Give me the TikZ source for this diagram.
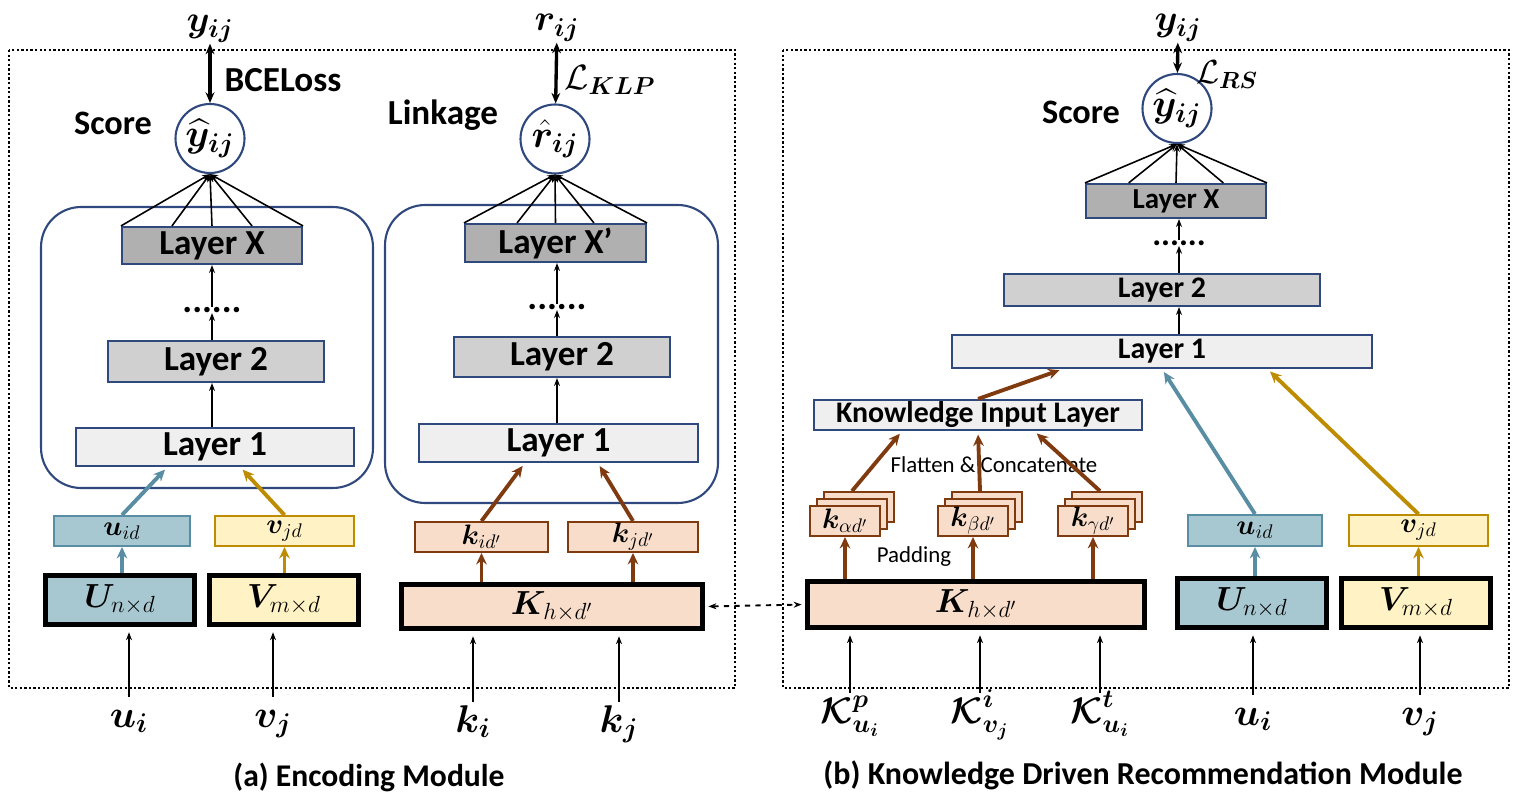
\RequirePackage{fix-cm}
\documentclass[tikz,border=0pt]{standalone}
\usepackage{amsmath}
\usepackage{bm}
\usepackage{fontspec}
\setmainfont{Carlito}
\usepackage{xcolor}
\usepackage{tikz}
\usetikzlibrary{arrows.meta}
\usetikzlibrary{calc}

\definecolor{navy}{RGB}{47,72,125}
\definecolor{grayX}{RGB}{176,176,176}
\definecolor{grayII}{RGB}{208,208,208}
\definecolor{grayI}{RGB}{239,239,239}
\definecolor{tealF}{RGB}{168,200,209}
\definecolor{tealD}{RGB}{88,141,163}
\definecolor{yelF}{RGB}{255,242,196}
\definecolor{yelD}{RGB}{190,140,0}
\definecolor{peachF}{RGB}{248,221,203}
\definecolor{brownD}{RGB}{128,58,16}

\begin{document}
\begin{tikzpicture}[x=0.02cm,y=-0.02cm]
				\useasboundingbox (0,0) rectangle (1518,800);
				% frames of the two modules
				\draw[line width=1.3pt,dash pattern=on 1.3pt off 1.3pt] (9,50) rectangle (735,688);
				\draw[line width=1.3pt,dash pattern=on 1.3pt off 1.3pt] (783,50) rectangle (1509,688);
				
				\begin{scope}[every node/.style={draw=navy,line width=1.2pt,rounded corners=0.8cm,inner sep=0pt}]
					\node[minimum width=6.64cm,minimum height=5.62cm] (BA) at (207,347.5) {};
					\node[minimum width=6.66cm,minimum height=5.96cm] (BB) at (551.5,354) {};
				\end{scope}
				
				\begin{scope}[every node/.style={rectangle,draw=navy,line width=1.2pt,inner sep=0pt,
						font=\fontsize{20}{23}\selectfont\bfseries}]
					\node[fill=grayX,minimum width=3.60cm,minimum height=0.74cm] (LXA) at (212,245.5) {Layer X};
					\node[fill=grayII,minimum width=4.32cm,minimum height=0.82cm] (L2A) at (216,361.5) {Layer 2};
					\node[fill=grayI,minimum width=5.56cm,minimum height=0.76cm] (L1A) at (215,447) {Layer 1};
					\node[fill=grayX,minimum width=3.62cm,minimum height=0.76cm] (LXB) at (555.5,243) {Layer X’};
					\node[fill=grayII,minimum width=4.32cm,minimum height=0.80cm] (L2B) at (562,357) {Layer 2};
					\node[fill=grayI,minimum width=5.58cm,minimum height=0.76cm] (L1B) at (558.5,443) {Layer 1};
					\node[fill=grayX,minimum width=3.60cm,minimum height=0.68cm,font=\fontsize{16.5}{19}\selectfont\bfseries] (LXC) at (1176,201) {Layer X};
					\node[fill=grayII,minimum width=6.32cm,minimum height=0.64cm,font=\fontsize{17}{20}\selectfont\bfseries] (L2C) at (1162,290) {Layer 2};
					\node[fill=grayI,minimum width=8.40cm,minimum height=0.66cm,font=\fontsize{17}{20}\selectfont\bfseries] (L1C) at (1162,351.5) {Layer 1};
					\node[fill=grayI,minimum width=6.56cm,minimum height=0.60cm,font=\fontsize{17}{20}\selectfont\bfseries] (KIL) at (978,415) {Knowledge Input Layer};
				\end{scope}
				
				\begin{scope}[every node/.style={circle,draw=navy,line width=1.2pt,fill=white,inner sep=0pt,
						minimum size=1.38cm,font=\fontsize{22}{26}\selectfont}]
					\node (SA) at (210,138.5) {$\bm{\widehat{y}_{ij}}$};
					\node (SB) at (555,139) {$\bm{\hat{r}_{ij}}$};
					\node (SC) at (1177,108.5) {$\bm{\widehat{y}_{ij}}$};
				\end{scope}
				
				% embedding boxes
				\begin{scope}[every node/.style={rectangle,line width=1.1pt,inner sep=0pt,
						minimum height=0.60cm,font=\fontsize{16}{19}\selectfont}]
					\node[draw=tealD,fill=tealF,minimum width=2.72cm] (UA) at (122,531) {$\bm{u}_{id}$};
					\node[draw=yelD,fill=yelF,minimum width=2.78cm] (VA) at (284.5,531) {$\bm{v}_{jd}$};
					\node[draw=brownD,fill=peachF,minimum width=2.66cm] (KI) at (481.5,537) {$\bm{k}_{id'}$};
					\node[draw=brownD,fill=peachF,minimum width=2.60cm] (KJ) at (633,537) {$\bm{k}_{jd'}$};
					\node[draw=tealD,fill=tealF,minimum width=2.68cm,minimum height=0.62cm] (UR) at (1255,530.5) {$\bm{u}_{id}$};
					\node[draw=yelD,fill=yelF,minimum width=2.78cm,minimum height=0.62cm] (VR) at (1418.5,530.5) {$\bm{v}_{jd}$};
				\end{scope}
				
				\begin{scope}[every node/.style={rectangle,draw=brownD,fill=peachF,line width=1.1pt,inner sep=0pt,
						minimum width=1.40cm,minimum height=0.60cm,font=\fontsize{16}{19}\selectfont}]
					\node (KA3) at (859,507) {};
					\node (KA2) at (852,514) {};
					\node (KA) at (845,521) {$\bm{k}_{\alpha d'}$};
					\node (KB3) at (987,507) {};
					\node (KB2) at (980,514) {};
					\node (KB) at (973,521) {$\bm{k}_{\beta d'}$};
					\node (KG3) at (1107,507) {};
					\node (KG2) at (1100,514) {};
					\node (KG) at (1093,521) {$\bm{k}_{\gamma d'}$};
				\end{scope}
				
				% embedding tables
				\begin{scope}[every node/.style={rectangle,draw=black,line width=2.8pt,inner sep=0pt,
						minimum height=0.98cm,font=\fontsize{19}{22}\selectfont}]
					\node[fill=tealF,minimum width=2.98cm] (U1) at (120,600) {$\bm{U}_{n\times d}$};
					\node[fill=yelF,minimum width=2.98cm] (V1) at (284,600) {$\bm{V}_{m\times d}$};
					\node[fill=peachF,minimum width=6.02cm,minimum height=0.88cm] (K1) at (552,606.5) {$\bm{K}_{h\times d'}$};
					\node[fill=peachF,minimum width=6.74cm,minimum height=0.92cm] (K2) at (976,604.5) {$\bm{K}_{h\times d'}$};
					\node[fill=tealF,minimum width=2.98cm] (U2) at (1252,603) {$\bm{U}_{n\times d}$};
					\node[fill=yelF,minimum width=2.98cm] (V2) at (1416,603) {$\bm{V}_{m\times d}$};
				\end{scope}
				
				% texts
				\begin{scope}[every node/.style={font=\fontsize{19.5}{23}\selectfont\bfseries}]
					\node (TSA) at (113,123) {Score};
					\node[font=\fontsize{20}{23}\selectfont\bfseries] (TLK) at (443,115) {Linkage};
					\node (TSC) at (1081,112) {Score};
					\node[font=\fontsize{20}{23}\selectfont\bfseries] (TBCE) at (283,80) {BCELoss};
					\node[font=\fontsize{18}{21}\selectfont\bfseries] (CAPA) at (369,777) {(a) Encoding Module};
					\node[font=\fontsize{18.2}{21}\selectfont\bfseries] (CAPB) at (1143,775) {(b) Knowledge Driven Recommendation Module};
					\node[font=\fontsize{13}{16}\selectfont] (TFC) at (994,465) {Flatten \& Concatenate};
					\node[font=\fontsize{13}{16}\selectfont] (TPD) at (914,557) {Padding};
					\node[font=\fontsize{21}{24}\selectfont\bfseries,inner sep=0pt] (DA) at (212,310) {......};
					\node[font=\fontsize{21}{24}\selectfont\bfseries,inner sep=0pt] (DB) at (557,307) {......};
					\node[font=\fontsize{19}{22}\selectfont\bfseries,inner sep=0pt] (DC) at (1179,243) {......};
				\end{scope}
				
				% targets and losses
				\begin{scope}[every node/.style={inner sep=0.5pt,font=\fontsize{21}{25}\selectfont}]
					\node (YA) at (210,29) {$\bm{y_{ij}}$};
					\node (RB) at (557,28) {$\bm{r_{ij}}$};
					\node (YC) at (1178,28) {$\bm{y_{ij}}$};
					\node[font=\fontsize{20}{24}\selectfont] (LKLP) at (610,80) {$\mathcal{L}_{\bm{KLP}}$};
					\node[font=\fontsize{19}{23}\selectfont] (LRS) at (1227,75) {$\mathcal{L}_{\bm{RS}}$};
				\end{scope}
				
				% inputs
				\begin{scope}[every node/.style={anchor=base,inner sep=0pt,text height=0.6cm,text depth=0.2cm,
						font=\fontsize{22}{26}\selectfont}]
					\node (UIA) at (129,727) {$\bm{u_i}$};
					\node (VJA) at (273,727) {$\bm{v_j}$};
					\node (KIB) at (473,732) {$\bm{k_i}$};
					\node (KJB) at (619,732) {$\bm{k_j}$};
					\node[font=\fontsize{21}{25}\selectfont] (KPC) at (850,723) {$\bm{\mathcal{K}}^{\bm{p}}_{\bm{u_i}}$};
					\node[font=\fontsize{21}{25}\selectfont] (KVC) at (980,723) {$\bm{\mathcal{K}}^{\bm{i}}_{\bm{v_j}}$};
					\node[font=\fontsize{21}{25}\selectfont] (KTC) at (1100,723) {$\bm{\mathcal{K}}^{\bm{t}}_{\bm{u_i}}$};
					\node (UIC) at (1253,725) {$\bm{u_i}$};
					\node (VJC) at (1420,725) {$\bm{v_j}$};
				\end{scope}
				
				% thin black arrows
				\begin{scope}[>={Stealth[length=4.5pt,width=3.4pt]},line width=0.9pt]
					\foreach \f in {0,0.28,0.5,0.72,1}
					\draw[->] ($(LXA.north west)!\f!(LXA.north east)$) -- (SA.south);
					\foreach \f in {0,0.29,0.5,0.71,1}
					\draw[->] ($(LXB.north west)!\f!(LXB.north east)$) -- (SB.south);
					\foreach \f in {0,0.24,0.5,0.76,1}
					\draw[->] ($(LXC.north west)!\f!(LXC.north east)$) -- (SC.south);
					\draw[->] (DA |- L1A.north) -- (DA |- L2A.south);
					\draw[->] (DA |- L2A.north) -- (DA);
					\draw[->] (DA) -- (DA |- LXA.south);
					\draw[->] (DB |- L1B.north) -- (DB |- L2B.south);
					\draw[->] (DB |- L2B.north) -- (DB);
					\draw[->] (DB) -- (DB |- LXB.south);
					\draw[->] (DC |- L1C.north) -- (DC |- L2C.south);
					\draw[->] (DC |- L2C.north) -- (DC);
					\draw[->] (DC) -- (DC |- LXC.south);
					\draw[->,shorten >=3pt] (UIA.north) -- (UIA.north |- U1.south);
					\draw[->,shorten >=3pt] (VJA.north) -- (VJA.north |- V1.south);
					\draw[->,shorten >=3pt] (KIB.north) -- (KIB.north |- K1.south);
					\draw[->,shorten >=3pt] (KJB.north) -- (KJB.north |- K1.south);
					\draw[->,shorten >=3pt] (KPC.north) -- (KPC.north |- K2.south);
					\draw[->,shorten >=3pt] (KVC.north) -- (KVC.north |- K2.south);
					\draw[->,shorten >=3pt] (KTC.north) -- (KTC.north |- K2.south);
					\draw[->,shorten >=3pt] (UIC.north) -- (UIC.north |- U2.south);
					\draw[->,shorten >=3pt] (VJC.north) -- (VJC.north |- V2.south);
					\draw[<->,dashed,line width=1.1pt,shorten <=2pt,shorten >=2pt] (K1.east) -- (K2.west);
				\end{scope}
				
				% losses
				\begin{scope}[>={Stealth[length=6pt,width=5pt]},line width=1.9pt]
					\draw[<->] (YA) -- (SA);
					\draw[<->] (RB) -- (SB);
					\draw[<->] (YC) -- (SC);
				\end{scope}
				
				% coloured arrows
				\begin{scope}[>={Stealth[length=6.5pt,width=6pt]},line width=2.2pt]
					\draw[->,tealD] (UA.south |- U1.north) -- (UA.south);
					\draw[->,yelD] (VA.south |- V1.north) -- (VA.south);
					\draw[->,tealD,shorten >=2pt] (UA.north) -- ($(L1A.south west)!0.33!(L1A.south east)$);
					\draw[->,yelD,shorten >=2pt] (VA.north) -- ($(L1A.south west)!0.59!(L1A.south east)$);
					\draw[->,brownD] (KI.south |- K1.north) -- (KI.south);
					\draw[->,brownD] (KJ.south |- K1.north) -- (KJ.south);
					\draw[->,brownD,shorten >=2pt] (KI.north) -- ($(L1B.south west)!0.38!(L1B.south east)$);
					\draw[->,brownD,shorten >=2pt] (KJ.north) -- ($(L1B.south west)!0.64!(L1B.south east)$);
					\draw[->,brownD] (KA.south |- K2.north) -- (KA.south);
					\draw[->,brownD] (KB.south |- K2.north) -- (KB.south);
					\draw[->,brownD] (KG.south |- K2.north) -- (KG.south);
					\draw[->,brownD,shorten >=2pt] (KA2.north |- KA3.north) -- ($(KIL.south west)!0.27!(KIL.south east)$);
					\draw[->,brownD,shorten >=2pt] (KB2.north |- KB3.north) -- ($(KIL.south west)!0.5!(KIL.south east)$);
					\draw[->,brownD,shorten >=2pt] (KG2.north |- KG3.north) -- ($(KIL.south west)!0.67!(KIL.south east)$);
					\draw[->,brownD,shorten >=2pt] (KIL.north) -- ($(L1C.south west)!0.265!(L1C.south east)$);
					\draw[->,tealD] (UR.south |- U2.north) -- (UR.south);
					\draw[->,yelD] (VR.south |- V2.north) -- (VR.south);
					\draw[->,tealD,shorten >=2pt] (UR.north) -- ($(L1C.south west)!0.5!(L1C.south east)$);
					\draw[->,yelD,shorten >=2pt] (VR.north) -- ($(L1C.south west)!0.75!(L1C.south east)$);
				\end{scope}
\end{tikzpicture}
\end{document}
